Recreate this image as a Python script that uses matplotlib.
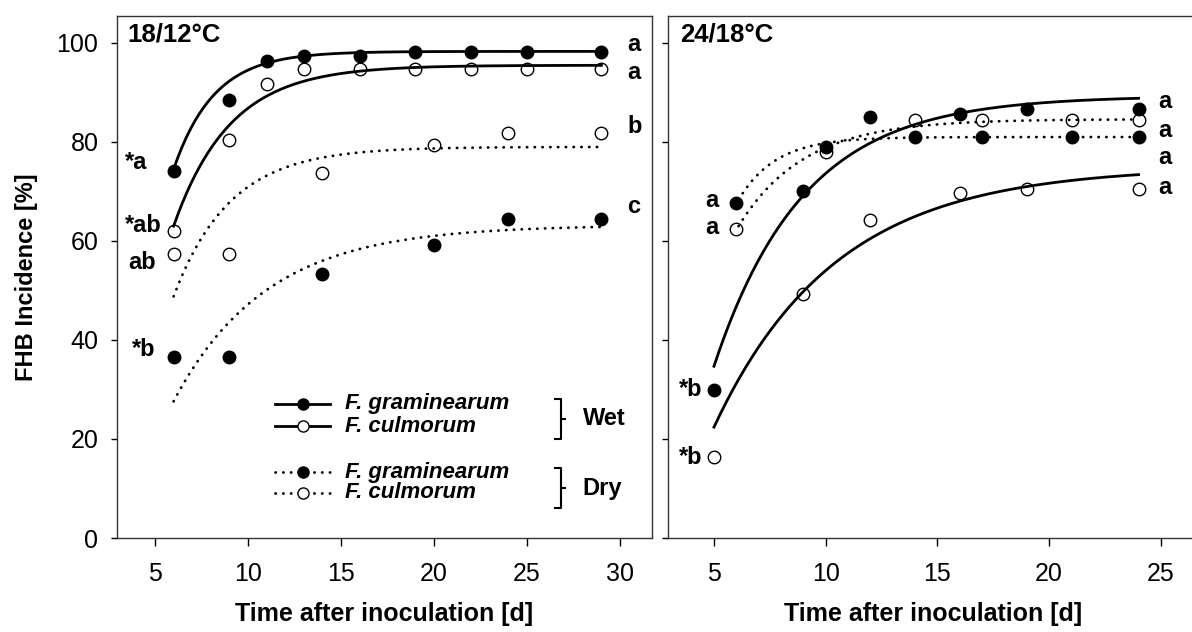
import matplotlib
matplotlib.use("Agg")
import matplotlib.pyplot as plt
import numpy as np

plt.rcParams["font.family"] = ["Liberation Sans", "DejaVu Sans"]

# 18/12 degC panel: days after inoculation and FHB incidence [%]
cool_days_wet = [6, 9, 11, 13, 16, 19, 22, 25, 29]
cool_fg_wet = [74.1, 88.4, 96.4, 97.4, 97.4, 98.2, 98.2, 98.2, 98.2]
cool_fc_wet = [62.0, 80.3, 91.8, 94.7, 94.7, 94.7, 94.7, 94.7, 94.7]
cool_days_dry = [6, 9, 14, 20, 24, 29]
cool_fg_dry = [36.6, 36.6, 53.3, 59.2, 64.4, 64.4]
cool_fc_dry = [57.4, 57.4, 73.7, 79.3, 81.8, 81.8]

# 24/18 degC panel
warm_days_wet = [5, 9, 12, 16, 19, 24]
warm_fg_wet = [29.8, 70.0, 85.0, 85.7, 86.7, 86.7]
warm_fc_wet = [16.3, 49.2, 64.2, 69.7, 70.5, 70.5]
warm_days_dry = [6, 10, 14, 17, 21, 24]
warm_fg_dry = [67.7, 79.0, 81.0, 81.0, 81.0, 81.0]
warm_fc_dry = [62.4, 77.9, 84.5, 84.5, 84.5, 84.5]

# exponential rise-to-max fits: (first day, last day, start value, plateau, rate)
cool_fit_fg_wet = (6, 29, 74.5, 98.3, 0.46)
cool_fit_fc_wet = (6, 29, 63.0, 95.5, 0.33)
cool_fit_fg_dry = (6, 29, 27.6, 63.2, 0.20)
cool_fit_fc_dry = (6, 29, 48.8, 79.0, 0.33)
warm_fit_fg_wet = (5, 24, 34.7, 89.3, 0.25)
warm_fit_fc_wet = (5, 24, 22.4, 75.0, 0.184)
warm_fit_fg_dry = (6.1, 24, 68.3, 81.0, 0.60)
warm_fit_fc_dry = (6.1, 24, 63.0, 84.6, 0.34)

# significance letters: (text, level)
cool_letters_right = [("a", 99.6), ("a", 94.1), ("b", 83.2), ("c", 66.9)]
cool_letters_left = [("*a", 75.8), ("*ab", 63.2), ("ab", 55.6), ("*b", 38.0)]
warm_letters_right = [("a", 88.1), ("a", 82.4), ("a", 76.8), ("a", 70.9)]
warm_letters_left = [("a", 68.1), ("a", 62.8), ("*b", 29.9), ("*b", 16.2)]

SOLID = "-"
DOTTED = (0, (0.1, 2.7))
LETTER_SIZE = 17


def fit_curve(ax, fit, style):
    x0, x1, y0, plateau, rate = fit
    x = np.linspace(x0, x1, 200)
    y = plateau - (plateau - y0) * np.exp(-rate * (x - x0))
    ax.plot(x, y, color="black", lw=2, linestyle=style,
            dash_capstyle="round", zorder=2)


def points(ax, days, values, filled):
    if filled:
        ax.plot(days, values, "o", color="black", ms=9, zorder=3)
    else:
        ax.plot(days, values, "o", mfc="none", mec="black", mew=1,
                ms=9, zorder=3)


def style_axis(ax):
    for side in ax.spines.values():
        side.set_color("#333333")
        side.set_linewidth(1)
    ax.tick_params(axis="x", direction="out", length=6, width=1,
                   labelsize=18, top=False, pad=11.5)
    ax.tick_params(axis="y", direction="out", length=4, width=1,
                   labelsize=18, right=False, pad=9.4)
    ax.set_ylim(0, 105.45)
    ax.set_yticks([0, 20, 40, 60, 80, 100])
    ax.set_xlabel("Time after inoculation [d]", fontsize=18,
                  fontweight="bold", labelpad=11)


fig = plt.figure(figsize=(11.92, 6.32), dpi=100)
ax1 = fig.add_axes([117 / 1192, 94 / 632, 535 / 1192, 522 / 632])
ax2 = fig.add_axes([668 / 1192, 94 / 632, 530 / 1192, 522 / 632])

# left panel
fit_curve(ax1, cool_fit_fg_wet, SOLID)
fit_curve(ax1, cool_fit_fc_wet, SOLID)
fit_curve(ax1, cool_fit_fg_dry, DOTTED)
fit_curve(ax1, cool_fit_fc_dry, DOTTED)
points(ax1, cool_days_wet, cool_fg_wet, True)
points(ax1, cool_days_wet, cool_fc_wet, False)
points(ax1, cool_days_dry, cool_fg_dry, True)
points(ax1, cool_days_dry, cool_fc_dry, False)
style_axis(ax1)
ax1.set_xlim(2.957, 31.72)
ax1.set_xticks([5, 10, 15, 20, 25, 30])
ax1.set_ylabel("FHB Incidence [%]", fontsize=17, fontweight="bold",
               labelpad=13)
ax1.text(0.019, 0.9655, "18/12°C", transform=ax1.transAxes, fontsize=18.5,
         fontweight="bold", va="center", ha="left")
for txt, val in cool_letters_right:
    ax1.text(30.38, val, txt, fontsize=LETTER_SIZE, fontweight="bold",
             va="center", ha="left")
for (txt, val), x_end in zip(cool_letters_left, [4.57, 5.38, 5.05, 5.05]):
    ax1.text(x_end, val, txt, fontsize=LETTER_SIZE, fontweight="bold",
             va="center", ha="right")

# legend drawn inside the left panel
legend_rows = [(27.1, SOLID, True, "F. graminearum"),
               (22.6, SOLID, False, "F. culmorum"),
               (13.3, DOTTED, True, "F. graminearum"),
               (9.1, DOTTED, False, "F. culmorum")]
for y, style, filled, name in legend_rows:
    ax1.plot([11.45, 14.41], [y, y], color="black", lw=2, linestyle=style,
             dash_capstyle="round")
    ax1.plot([12.96], [y], "o", ms=8, mec="black", mew=1,
             mfc="black" if filled else "white")
    ax1.text(15.2, y, name, fontsize=16, fontweight="bold", style="italic",
             va="center", ha="left")
for top, bottom, label in [(28.1, 20.0, "Wet"), (14.1, 6.1, "Dry")]:
    mid = (top + bottom) / 2
    ax1.plot([26.5, 26.83, 26.83, 26.5], [top, top, bottom, bottom],
             color="black", lw=1.5)
    ax1.plot([26.83, 27.04], [mid, mid], color="black", lw=1.5)
    ax1.text(28.0, mid, label, fontsize=17, fontweight="bold",
             va="center", ha="left")

# right panel
fit_curve(ax2, warm_fit_fg_wet, SOLID)
fit_curve(ax2, warm_fit_fc_wet, SOLID)
fit_curve(ax2, warm_fit_fg_dry, DOTTED)
fit_curve(ax2, warm_fit_fc_dry, DOTTED)
points(ax2, warm_days_wet, warm_fg_wet, True)
points(ax2, warm_days_wet, warm_fc_wet, False)
points(ax2, warm_days_dry, warm_fg_dry, True)
points(ax2, warm_days_dry, warm_fc_dry, False)
style_axis(ax2)
ax2.set_xlim(2.942, 26.66)
ax2.set_xticks([5, 10, 15, 20, 25])
ax2.tick_params(labelleft=False)
ax2.text(12 / 530, 0.9655, "24/18°C", transform=ax2.transAxes,
         fontsize=18.5, fontweight="bold", va="center", ha="left")
for txt, val in warm_letters_right:
    ax2.text(24.87, val, txt, fontsize=LETTER_SIZE, fontweight="bold",
             va="center", ha="left")
for (txt, val), x_end in zip(warm_letters_left, [5.22, 5.22, 4.5, 4.5]):
    ax2.text(x_end, val, txt, fontsize=LETTER_SIZE, fontweight="bold",
             va="center", ha="right")

fig.savefig("out.png", dpi=100)
